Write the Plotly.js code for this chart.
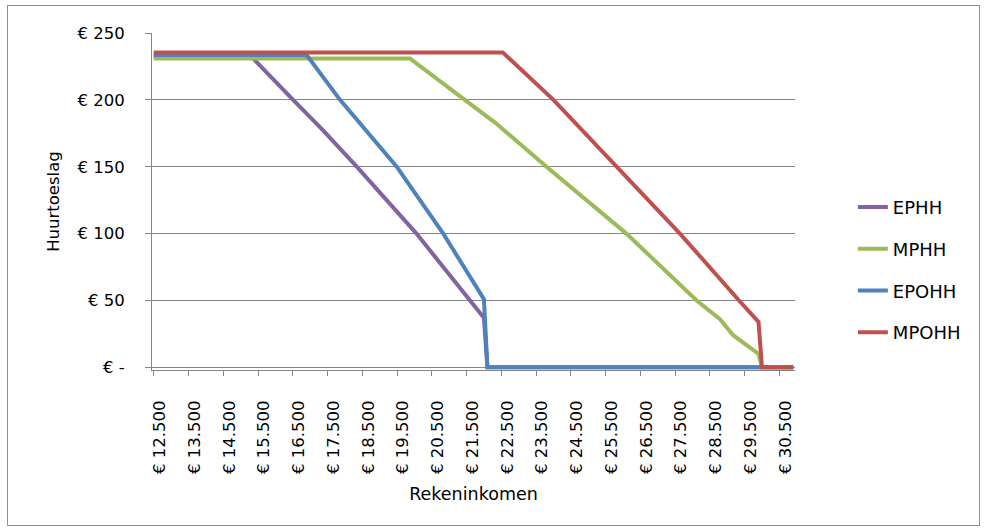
<!DOCTYPE html>
<html><head><meta charset="utf-8">
<script src="https://cdn.plot.ly/plotly-3.0.1.min.js"></script>
<style>
html,body{margin:0;padding:0;background:#fff}
#chart{width:985px;height:531px;position:absolute;left:0;top:0}
#frame{position:absolute;left:7px;top:5px;width:971px;height:519px;border:1px solid #8e8e8e;pointer-events:none}
</style>
</head><body>
<div id="chart"></div><div id="frame"></div>
<script>
// Series: income (Rekeninkomen) vs rent subsidy (Huurtoeslag)
const seriesNames = ['EPHH', 'MPHH', 'EPOHH', 'MPOHH'];
const seriesColors = ['#8064A2', '#9BBB59', '#4F81BD', '#C0504D'];

const ephhX = [12500, 15320, 16510, 17380, 18340, 20060, 21600, 22000, 22100, 30900];
const ephhY = [232, 232, 200, 177, 150, 100, 50, 37, 0, 0];

const mphhX = [12500, 19870, 21450, 22320, 23800, 26100, 28120, 28790, 29170, 29900, 30000, 30900];
const mphhY = [231, 231, 200, 183, 150, 100, 50, 36, 24, 10, 0, 0];

const epohhX = [12500, 16900, 17860, 19490, 20830, 22000, 22100, 30900];
const epohhY = [233.5, 233.5, 200, 150, 100, 51, 0, 0];

const mpohhX = [12500, 22540, 24000, 25820, 27640, 29340, 29900, 30000, 30900];
const mpohhY = [235.5, 235.5, 200, 150, 100, 50, 34, 0, 0];

const xTickVals = [12500, 13500, 14500, 15500, 16500, 17500, 18500, 19500, 20500, 21500,
                   22500, 23500, 24500, 25500, 26500, 27500, 28500, 29500, 30500];
const xTickText = ['€ 12.500', '€ 13.500', '€ 14.500', '€ 15.500', '€ 16.500', '€ 17.500',
                   '€ 18.500', '€ 19.500', '€ 20.500', '€ 21.500', '€ 22.500', '€ 23.500',
                   '€ 24.500', '€ 25.500', '€ 26.500', '€ 27.500', '€ 28.500', '€ 29.500', '€ 30.500'];
const yTickVals = [0, 50, 100, 150, 200, 250];
const yTickText = ['€ -', '€ 50', '€ 100', '€ 150', '€ 200', '€ 250'];

const xs = [ephhX, mphhX, epohhX, mpohhX];
const ys = [ephhY, mphhY, epohhY, mpohhY];

const FONT = 'DejaVu Sans, Verdana, sans-serif';
const traces = seriesNames.map((n, i) => ({
  type: 'scatter', mode: 'lines', name: n, x: xs[i], y: ys[i],
  legendgroup: n,
  line: {color: seriesColors[i], width: 4, shape: 'linear'},
  hoverinfo: 'x+y+name'
}));

const layout = {
  width: 985, height: 531,
  margin: {l: 152, r: 190, t: 33, b: 161, pad: 0},
  paper_bgcolor: '#ffffff', plot_bgcolor: '#ffffff',
  font: {family: FONT, size: 16, color: '#000'},
  showlegend: true,
  legend: {
    x: 1.09, xanchor: 'left', y: 0.2975, yanchor: 'middle',
    font: {family: FONT, size: 18, color: '#000'},
    tracegroupgap: 15.4, itemwidth: 30, bgcolor: 'rgba(0,0,0,0)', borderwidth: 0
  },
  xaxis: {
    range: [12450, 30950], type: 'linear',
    tickmode: 'array', tickvals: xTickVals, ticktext: xTickText,
    tickangle: -90, ticks: 'outside', ticklen: 5, tickcolor: '#868686', tickwidth: 1,
    ticklabelstandoff: 18, ticklabelshift: 6,
    tickfont: {family: FONT, size: 16.5, color: '#000'},
    showline: true, linecolor: '#868686', linewidth: 1,
    showgrid: false, zeroline: false, automargin: false, fixedrange: true,
    title: {text: 'Rekeninkomen', font: {family: FONT, size: 17.5, color: '#000'}, standoff: 14}
  },
  yaxis: {
    range: [-2, 250], type: 'linear',
    tickmode: 'array', tickvals: yTickVals, ticktext: yTickText,
    ticks: 'outside', ticklen: 6, tickcolor: '#868686', tickwidth: 1,
    ticklabelstandoff: 17,
    tickfont: {family: FONT, size: 16.5, color: '#000'},
    showline: true, linecolor: '#868686', linewidth: 1,
    showgrid: true, gridcolor: '#868686', gridwidth: 1,
    zeroline: false, automargin: false, fixedrange: true,
    title: {text: 'Huurtoeslag', font: {family: FONT, size: 16.5, color: '#000'}, standoff: 13}
  }
};

Plotly.newPlot('chart', traces, layout, {displayModeBar: false, staticPlot: true});
</script>
</body></html>
